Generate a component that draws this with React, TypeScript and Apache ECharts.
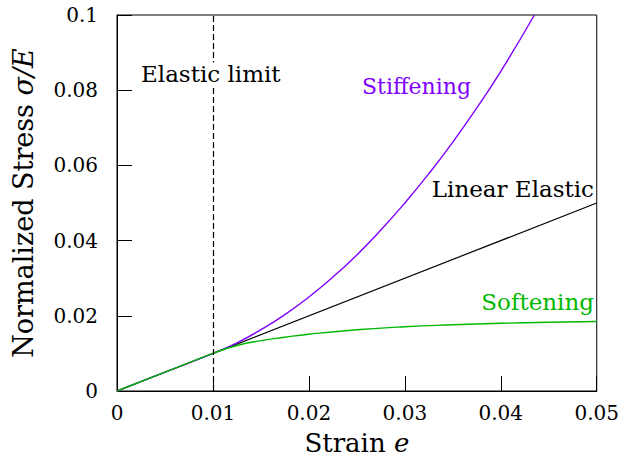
import React, { useEffect, useRef } from "react";
import * as echarts from "echarts";

const linearData: [number, number][] = [
  [0, 0],
  [0.05, 0.05],
];
const stiffeningData: [number, number][] = [
  [0, 0],
  [0.005, 0.005],
  [0.01, 0.01],
  [0.0125, 0.0128],
  [0.015, 0.0163],
  [0.0175, 0.0203],
  [0.02, 0.025],
  [0.0225, 0.0303],
  [0.025, 0.0362],
  [0.0275, 0.0428],
  [0.03, 0.05],
  [0.0325, 0.0578],
  [0.035, 0.0662],
  [0.0375, 0.0753],
  [0.04, 0.085],
  [0.0435, 0.1],
];
const softeningData: [number, number][] = [
  [0, 0],
  [0.005, 0.005],
  [0.01, 0.01],
  [0.0125, 0.0121],
  [0.015, 0.0134],
  [0.0175, 0.0143],
  [0.02, 0.0151],
  [0.025, 0.0163],
  [0.03, 0.0171],
  [0.035, 0.0176],
  [0.04, 0.018],
  [0.045, 0.0183],
  [0.05, 0.0185],
];
const elasticLimit = 0.01;
const xTicks = [0, 0.01, 0.02, 0.03, 0.04, 0.05];
const yTicks = [0, 0.02, 0.04, 0.06, 0.08, 0.1];

const FONT = "DejaVu Serif";
const PURPLE = "#8000ff";
const GREEN = "#00b800";

export default function App() {
  const ref = useRef<HTMLDivElement>(null);
  useEffect(() => {
    const chart = echarts.init(ref.current!, undefined, { renderer: "svg" });
    const titleStyle = {
      fontFamily: FONT,
      fontSize: 26,
      color: "#000",
      rich: { i: { fontFamily: FONT, fontStyle: "italic", fontSize: 26, color: "#000" } },
    };
    chart.setOption({
      animation: false,
      backgroundColor: "#fff",
      textStyle: { fontFamily: FONT },
      grid: {
        left: 117,
        right: 23,
        top: 15,
        bottom: 71,
        show: true,
        borderColor: "#000",
        borderWidth: 1,
      },
      xAxis: {
        type: "value",
        min: 0,
        max: 0.05,
        interval: 0.01,
        name: "Strain {i|e}",
        nameLocation: "middle",
        nameGap: 39,
        nameTextStyle: titleStyle,
        axisLine: { show: true, lineStyle: { color: "#000", width: 1 } },
        axisTick: { show: true, inside: true, length: 15, lineStyle: { color: "#000" } },
        axisLabel: {
          fontFamily: FONT,
          fontSize: 20,
          color: "#000",
          margin: 12,
          formatter: (v: number) => {
            const t = xTicks.find((x) => Math.abs(x - v) < 1e-9);
            return t === undefined ? "" : String(t);
          },
        },
        splitLine: { show: false },
      },
      yAxis: {
        type: "value",
        min: 0,
        max: 0.1,
        interval: 0.02,
        name: "Normalized Stress {i|σ/E}",
        nameLocation: "middle",
        nameGap: 80,
        nameTextStyle: {
          ...titleStyle,
          fontSize: 27,
          rich: { i: { fontFamily: FONT, fontStyle: "italic", fontSize: 27, color: "#000" } },
        },
        axisLine: { show: true, lineStyle: { color: "#000", width: 1 } },
        axisTick: { show: true, inside: true, length: 15, lineStyle: { color: "#000" } },
        axisLabel: {
          fontFamily: FONT,
          fontSize: 20,
          color: "#000",
          margin: 19,
          formatter: (v: number) => {
            const t = yTicks.find((y) => Math.abs(y - v) < 1e-9);
            return t === undefined ? "" : String(t);
          },
        },
        splitLine: { show: false },
      },
      series: [
        {
          type: "line",
          name: "Linear Elastic",
          data: linearData,
          showSymbol: false,
          lineStyle: { color: "#000", width: 1.2 },
          z: 2,
          markLine: {
            silent: true,
            symbol: "none",
            label: { show: false },
            lineStyle: { color: "#000", type: [6, 3], width: 1.2 },
            data: [{ xAxis: elasticLimit }],
          },
        },
        {
          type: "line",
          name: "Stiffening",
          data: stiffeningData,
          smooth: true,
          showSymbol: false,
          z: 3,
          lineStyle: { color: PURPLE, width: 1.4 },
        },
        {
          type: "line",
          name: "Softening",
          data: softeningData,
          smooth: true,
          showSymbol: false,
          z: 4,
          lineStyle: { color: GREEN, width: 1.4 },
        },
      ],
      graphic: [
        {
          type: "text",
          x: 140,
          y: 74,
          z: 100,
          style: {
            text: "Elastic limit",
            fontFamily: FONT,
            fontSize: 23,
            fill: "#000",
            align: "left",
            verticalAlign: "middle",
            backgroundColor: "#fff",
            padding: [0, 1],
          },
        },
        {
          type: "text",
          x: 362,
          y: 86,
          z: 100,
          style: { text: "Stiffening", fontFamily: FONT, fontSize: 22, fill: PURPLE, align: "left", verticalAlign: "middle" },
        },
        {
          type: "text",
          x: 594,
          y: 189,
          z: 100,
          style: { text: "Linear Elastic", fontFamily: FONT, fontSize: 23, fill: "#000", align: "right", verticalAlign: "middle" },
        },
        {
          type: "text",
          x: 594,
          y: 302,
          z: 100,
          style: { text: "Softening", fontFamily: FONT, fontSize: 23, fill: GREEN, align: "right", verticalAlign: "middle" },
        },
      ],
    });
    return () => chart.dispose();
  }, []);
  return <div ref={ref} style={{ width: 622, height: 462, position: "absolute", left: 0, top: 0 }} />;
}
